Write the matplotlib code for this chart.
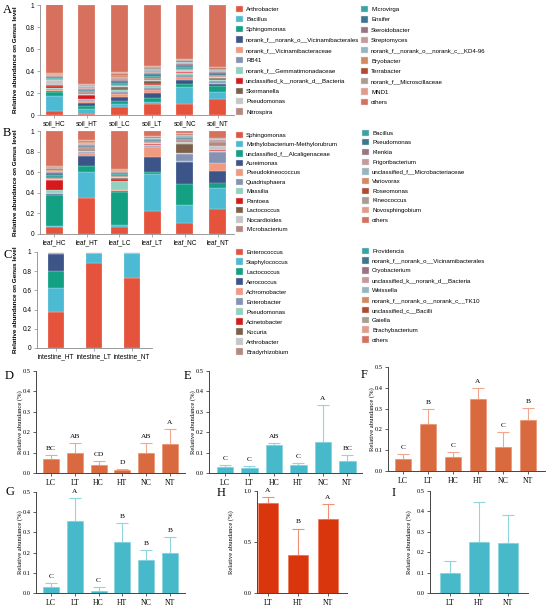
import numpy as np
import matplotlib
matplotlib.use("Agg")
import matplotlib.pyplot as plt
import matplotlib.patches as mpatches

W, H = 550, 609
SANS = "Liberation Sans"
SERIF = "Liberation Serif"

palette = ["#e5533d", "#4dbad4", "#13a083", "#3c5488", "#f19a80", "#8592b4",
           "#92d0c0", "#d7191c", "#7c604a", "#c6c6c6", "#b6877f",
           "#37a5a3", "#3b7791", "#9a7386", "#c8989c", "#96b5c1", "#d4895f",
           "#b24a31", "#a99c91", "#e29c8c", "#d7705d"]

# ---- panel A: soil ----
soil_samples = ["soil_HC", "soil_HT", "soil_LC", "soil_LT", "soil_NC", "soil_NT"]
soil_genera = ["Arthrobacter", "Bacillus", "Sphingomonas",
               "norank_f__norank_o__Vicinamibacterales", "norank_f__Vicinamibacteraceae",
               "RB41", "norank_f__Gemmatimonadaceae", "unclassified_k__norank_d__Bacteria",
               "Skermanella", "Pseudomonas", "Nitrospira",
               "Microvirga", "Ensifer", "Steroidobacter", "Streptomyces",
               "norank_f__norank_o__norank_c__KD4-96", "Bryobacter", "Terrabacter",
               "norank_f__Microscillaceae", "MND1", "others"]
soil_abund = [
    [0.040, 0.010, 0.070, 0.100, 0.100, 0.145],
    [0.130, 0.045, 0.030, 0.020, 0.155, 0.060],
    [0.035, 0.025, 0.025, 0.035, 0.030, 0.060],
    [0.015, 0.025, 0.040, 0.045, 0.035, 0.020],
    [0.010, 0.020, 0.025, 0.030, 0.030, 0.010],
    [0.010, 0.010, 0.020, 0.015, 0.010, 0.015],
    [0.010, 0.015, 0.015, 0.025, 0.020, 0.010],
    [0.015, 0.030, 0.015, 0.012, 0.010, 0.010],
    [0.005, 0.005, 0.015, 0.030, 0.005, 0.005],
    [0.050, 0.010, 0.010, 0.010, 0.010, 0.010],
    [0.005, 0.010, 0.010, 0.015, 0.010, 0.010],
    [0.012, 0.015, 0.015, 0.020, 0.020, 0.010],
    [0.012, 0.010, 0.015, 0.015, 0.015, 0.015],
    [0.005, 0.010, 0.015, 0.010, 0.010, 0.010],
    [0.005, 0.010, 0.015, 0.010, 0.010, 0.010],
    [0.005, 0.010, 0.015, 0.015, 0.010, 0.010],
    [0.005, 0.005, 0.010, 0.010, 0.005, 0.005],
    [0.005, 0.003, 0.010, 0.005, 0.005, 0.015],
    [0.005, 0.005, 0.015, 0.010, 0.010, 0.005],
    [0.005, 0.005, 0.010, 0.010, 0.005, 0.005],
    [0.621, 0.722, 0.605, 0.558, 0.495, 0.560],
]

# ---- panel B: leaf ----
leaf_samples = ["leaf_HC", "leaf_HT", "leaf_LC", "leaf_LT", "leaf_NC", "leaf_NT"]
leaf_genera = ["Sphingomonas", "Methylobacterium-Methylorubrum", "unclassified_f__Alcaligenaceae",
               "Aureimonas", "Pseudokineococcus", "Quadrisphaera", "Massilia", "Pantoea",
               "Lactococcus", "Nocardioides", "Microbacterium",
               "Bacillus", "Pseudomonas", "Klenkia", "Frigoribacterium",
               "unclassified_f__Microbacteriaceae", "Variovorax", "Roseomonas",
               "Kineococcus", "Novosphingobium", "others"]
leaf_abund = [
    [0.070, 0.345, 0.065, 0.225, 0.110, 0.245],
    [0.010, 0.255, 0.020, 0.360, 0.170, 0.205],
    [0.300, 0.065, 0.325, 0.015, 0.210, 0.050],
    [0.010, 0.095, 0.010, 0.145, 0.210, 0.110],
    [0.005, 0.025, 0.005, 0.100, 0.005, 0.075],
    [0.005, 0.010, 0.005, 0.010, 0.075, 0.115],
    [0.030, 0.010, 0.085, 0.010, 0.005, 0.010],
    [0.090, 0.005, 0.020, 0.005, 0.003, 0.005],
    [0.005, 0.005, 0.005, 0.005, 0.085, 0.005],
    [0.010, 0.005, 0.015, 0.010, 0.025, 0.030],
    [0.010, 0.015, 0.010, 0.010, 0.015, 0.045],
    [0.030, 0.010, 0.020, 0.010, 0.010, 0.005],
    [0.020, 0.010, 0.010, 0.010, 0.010, 0.005],
    [0.005, 0.010, 0.005, 0.005, 0.005, 0.005],
    [0.005, 0.010, 0.005, 0.005, 0.005, 0.005],
    [0.010, 0.010, 0.010, 0.005, 0.020, 0.005],
    [0.010, 0.010, 0.005, 0.005, 0.003, 0.003],
    [0.010, 0.005, 0.005, 0.005, 0.002, 0.002],
    [0.010, 0.005, 0.005, 0.005, 0.005, 0.003],
    [0.020, 0.005, 0.005, 0.010, 0.005, 0.002],
    [0.335, 0.090, 0.365, 0.045, 0.022, 0.070],
]

# ---- panel C: intestine ----
gut_samples = ["intestine_HT", "intestine_LT", "intestine_NT"]
gut_genera = ["Enterococcus", "Staphylococcus", "Lactococcus", "Aerococcus", "Achromobacter",
              "Enterobacter", "Pseudomonas", "Acinetobacter", "Kocuria", "Arthrobacter",
              "Bradyrhizobium", "Providencia", "norank_f__norank_o__Vicinamibacterales",
              "Cryobacterium", "unclassified_k__norank_d__Bacteria", "Weissella",
              "norank_f__norank_o__norank_c__TK10", "unclassified_c__Bacilli", "Gaiella",
              "Brachybacterium", "others"]
gut_abund = [
    [0.375, 0.885, 0.730],
    [0.255, 0.100, 0.255],
    [0.175, 0.000, 0.000],
    [0.170, 0.000, 0.002],
    [0.020, 0.012, 0.000],
    [0.000, 0.000, 0.010],
    [0.001, 0.000, 0.000],
    [0.000, 0.000, 0.000],
    [0.000, 0.000, 0.000],
    [0.000, 0.000, 0.000],
    [0.000, 0.000, 0.000],
    [0.000, 0.000, 0.000],
    [0.000, 0.000, 0.000],
    [0.000, 0.000, 0.000],
    [0.000, 0.000, 0.000],
    [0.000, 0.000, 0.000],
    [0.000, 0.000, 0.000],
    [0.000, 0.000, 0.000],
    [0.000, 0.000, 0.000],
    [0.000, 0.000, 0.000],
    [0.004, 0.003, 0.003],
]

# ---- panels D-I: single genus comparisons ----
grp6 = ["LC", "LT", "HC", "HT", "NC", "NT"]
grp3 = ["LT", "HT", "NT"]
d_mean = [0.068, 0.098, 0.037, 0.015, 0.098, 0.142]
d_sd = [0.020, 0.048, 0.021, 0.005, 0.048, 0.073]
d_sig = ["BC", "AB", "CD", "D", "AB", "A"]
e_mean = [0.031, 0.024, 0.136, 0.041, 0.154, 0.057]
e_sd = [0.010, 0.008, 0.010, 0.006, 0.179, 0.032]
e_sig = ["C", "C", "AB", "C", "A", "BC"]
f_mean = [0.058, 0.227, 0.068, 0.346, 0.113, 0.246]
f_sd = [0.022, 0.072, 0.022, 0.051, 0.073, 0.056]
f_sig = ["C", "B", "C", "A", "C", "B"]
g_mean = [0.028, 0.355, 0.011, 0.252, 0.165, 0.198]
g_sd = [0.020, 0.115, 0.017, 0.093, 0.049, 0.079]
g_sig = ["C", "A", "C", "B", "B", "B"]
h_mean = [0.879, 0.368, 0.726]
h_sd = [0.066, 0.264, 0.147]
h_sig = ["A", "B", "A"]
i_mean = [0.098, 0.249, 0.243]
i_sd = [0.057, 0.196, 0.140]

ORANGE = ("#d9693f", "#eb9b7a", "#f2a78c")
CYAN = ("#48b8cb", "#8bd3df", "#8fd6e2")
RED = ("#d9360e", "#ee7a5e", "#f08f78")


def add_ax(fig, left, top, right, bottom):
    return fig.add_axes([left / W, 1 - bottom / H, (right - left) / W, (bottom - top) / H])


def stacked(ax, samples, abund, width, xlim):
    x = np.arange(len(samples))
    base = np.zeros(len(samples))
    for row, c in zip(abund, palette):
        row = np.array(row)
        ax.bar(x, row, width, bottom=base, color=c, edgecolor="white", linewidth=0.15)
        base += row
    ax.set_xlim(*xlim)
    ax.set_ylim(0, 1)
    ax.set_yticks([0, 0.2, 0.4, 0.6, 0.8, 1])
    ax.set_yticklabels(["0", "0.2", "0.4", "0.6", "0.8", "1"])
    ax.set_xticks(x)
    ax.set_xticklabels(samples)
    for s in ["top", "right"]:
        ax.spines[s].set_visible(False)
    for s in ["left", "bottom"]:
        ax.spines[s].set_color("#8a8a8a")
        ax.spines[s].set_linewidth(0.6)
    ax.tick_params(length=2, width=0.5, color="#8a8a8a", labelsize=4.7, pad=2)
    for t in ax.get_xticklabels() + ax.get_yticklabels():
        t.set_fontfamily(SANS)


def legend_col(fig, labels, colors, x, y, spacing):
    handles = [mpatches.Patch(facecolor=c, edgecolor="#e0e0e0", linewidth=0.3) for c in colors]
    fig.legend(handles, labels, loc="upper left", bbox_to_anchor=(x / W, 1 - y / H),
               frameon=False, prop={"family": SANS, "size": 4.4}, handlelength=1.2,
               handleheight=1.2, handletextpad=0.45, labelspacing=spacing, borderpad=0,
               borderaxespad=0)


def sig_panel(ax, groups, means, sds, letters, colors, ylim, yticks, xlim, width):
    face, edge, errc = colors
    x = np.arange(len(groups))
    ax.bar(x, means, width, color=face, edgecolor=edge, linewidth=0.6, zorder=2)
    ax.errorbar(x, means, yerr=[np.zeros(len(x)), sds], fmt="none", ecolor=errc,
                elinewidth=0.8, capsize=4, capthick=0.8, zorder=1)
    if letters:
        for xi, m, s, lab in zip(x, means, sds, letters):
            ax.text(xi, m + s + ylim[1] * 0.04, lab, ha="center", va="bottom",
                    fontsize=5.3, family=SERIF)
    ax.set_xlim(*xlim)
    ax.set_ylim(*ylim)
    ax.set_yticks(yticks)
    ax.set_yticklabels(["%.1f" % v for v in yticks])
    ax.set_xticks(x)
    ax.set_xticklabels(groups)
    for s in ["top", "right"]:
        ax.spines[s].set_visible(False)
    for s in ["left", "bottom"]:
        ax.spines[s].set_color("#444444")
        ax.spines[s].set_linewidth(0.7)
    ax.tick_params(length=2, width=0.6, color="#444444", pad=2)
    ax.tick_params(axis="y", labelsize=4.6)
    ax.tick_params(axis="x", labelsize=5.6)
    for t in ax.get_xticklabels() + ax.get_yticklabels():
        t.set_fontfamily(SERIF)


def main():
    fig = plt.figure(figsize=(W / 100, H / 100), dpi=100)

    # A
    axA = add_ax(fig, 40, 5, 234, 115)
    stacked(axA, soil_samples, soil_abund, 0.52, (-0.43, 5.5))
    legend_col(fig, soil_genera[:11], palette[:11], 236, 5.5, 0.66)
    legend_col(fig, soil_genera[11:], palette[11:], 361, 6, 0.66)

    # B
    axB = add_ax(fig, 40, 131, 234, 234)
    stacked(axB, leaf_samples, leaf_abund, 0.52, (-0.43, 5.5))
    legend_col(fig, leaf_genera[:11], palette[:11], 236, 131.5, 0.52)
    legend_col(fig, leaf_genera[11:], palette[11:], 362, 129.5, 0.56)

    # C
    axC = add_ax(fig, 37, 252, 152, 348)
    stacked(axC, gut_samples, gut_abund, 0.43, (-0.5, 2.52))
    legend_col(fig, gut_genera[:11], palette[:11], 236, 248.5, 0.61)
    legend_col(fig, gut_genera[11:], palette[11:], 362, 247.5, 0.59)

    for yc in [60, 183, 300]:
        fig.text(16 / W, 1 - yc / H, "Relative abundance on Genus level", rotation=90,
                 ha="center", va="center", fontsize=4.6, fontweight="bold", family=SANS)
    for lab, yp in [("A", 10), ("B", 133), ("C", 255)]:
        fig.text(3 / W, 1 - yp / H, lab, ha="left", va="center", fontsize=9, family=SERIF)

    # D-I
    axD = add_ax(fig, 36, 371, 185, 473)
    sig_panel(axD, grp6, d_mean, d_sd, d_sig, ORANGE, (0, 0.5),
              [0.0, 0.1, 0.2, 0.3, 0.4, 0.5], (-0.63, 5.63), 0.67)
    axE = add_ax(fig, 209, 371, 362, 473)
    sig_panel(axE, grp6, e_mean, e_sd, e_sig, CYAN, (0, 0.5),
              [0.0, 0.1, 0.2, 0.3, 0.4, 0.5], (-0.65, 5.6), 0.67)
    axF = add_ax(fig, 388, 367, 545, 471)
    sig_panel(axF, grp6, f_mean, f_sd, f_sig, ORANGE, (0, 0.5),
              [0.0, 0.1, 0.2, 0.3, 0.4, 0.5], (-0.6, 5.68), 0.67)
    axG = add_ax(fig, 36, 492, 185, 593)
    sig_panel(axG, grp6, g_mean, g_sd, g_sig, CYAN, (0, 0.5),
              [0.0, 0.1, 0.2, 0.3, 0.4, 0.5], (-0.63, 5.63), 0.67)
    axH = add_ax(fig, 257, 491, 347, 593)
    sig_panel(axH, grp3, h_mean, h_sd, h_sig, RED, (0, 1.0),
              [0.0, 0.5, 1.0], (-0.37, 2.63), 0.67)
    axI = add_ax(fig, 430, 491, 528, 593)
    sig_panel(axI, grp3, i_mean, i_sd, None, CYAN, (0, 0.5),
              [0.0, 0.1, 0.2, 0.3, 0.4, 0.5], (-0.69, 2.69), 0.66)

    for xl, yc in [(20, 422), (193, 422), (372, 419), (20, 542), (231, 542), (409, 542)]:
        fig.text(xl / W, 1 - yc / H, "Relative abundance (%)", rotation=90, ha="center",
                 va="center", fontsize=4.8, family=SERIF)
    for lab, xp, yp in [("D", 5, 376), ("E", 184, 376), ("F", 361, 375),
                        ("G", 5, 492), ("H", 217, 493), ("I", 392, 493)]:
        fig.text(xp / W, 1 - yp / H, lab, ha="left", va="center", fontsize=9, family=SERIF)

    fig.savefig("out.png", dpi=100)


if __name__ == "__main__":
    main()
